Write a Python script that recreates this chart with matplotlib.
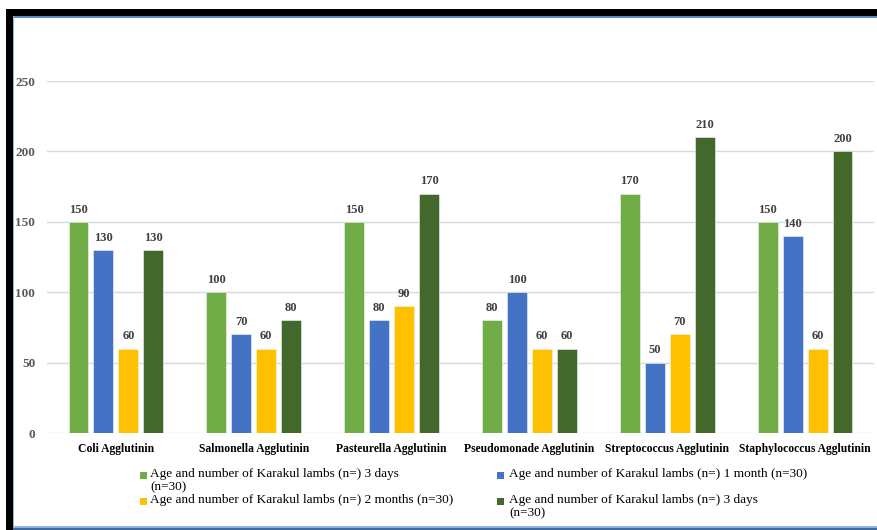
import matplotlib
matplotlib.use("Agg")
import matplotlib.pyplot as plt
from matplotlib.patches import Rectangle
import numpy as np

categories = ["Coli Agglutinin", "Salmonella Agglutinin", "Pasteurella Agglutinin",
              "Pseudomonade Agglutinin", "Streptococcus Agglutinin", "Staphylococcus Agglutinin"]
series_labels = ["Age and number of Karakul lambs (n=) 3 days\n(n=30)",
                 "Age and number of Karakul lambs (n=) 1 month (n=30)",
                 "Age and number of Karakul lambs (n=) 2 months (n=30)",
                 "Age and number of Karakul lambs (n=) 3 days\n(n=30)"]
days3_a = [150, 100, 150, 80, 170, 150]
month1 = [130, 70, 80, 100, 50, 140]
months2 = [60, 60, 90, 60, 70, 60]
days3_b = [130, 80, 170, 60, 210, 200]
yticks = [0, 50, 100, 150, 200, 250]

series = [days3_a, month1, months2, days3_b]
colors = ["#70AD47", "#4472C4", "#FFC000", "#43682B"]

W, H = 878, 530
fig = plt.figure(figsize=(W / 100, H / 100), dpi=100)
serif = ["Liberation Serif", "DejaVu Serif"]

ax = fig.add_axes([47 / W, 1 - 433 / H, (874 - 47) / W, (433 - 81) / H])
x = np.arange(len(categories))
bw = 0.145
step = 0.181
offsets = (np.arange(4) - 1.5) * step
for vals, col, off in zip(series, colors, offsets):
    bars = ax.bar(x + off, vals, width=bw, color=col, edgecolor="#f4f4f4",
                  linewidth=0.4, zorder=3)
    for rect, v in zip(bars, vals):
        ax.annotate(f"{v}", (rect.get_x() + rect.get_width() / 2, v),
                    xytext=(0, 4.5), textcoords="offset points", ha="center", va="bottom",
                    fontsize=9, fontweight="bold", color="#404040", family=serif)

ax.set_xlim(-0.5, len(categories) - 0.5)
ax.set_ylim(0, 250)
ax.set_yticks(yticks)
ax.set_yticklabels([str(t) for t in yticks])
ax.set_xticks(x)
ax.set_xticklabels(categories)
ax.grid(axis="y", color="#D9D9D9", linewidth=1, zorder=0)
for s in ax.spines.values():
    s.set_visible(False)
ax.tick_params(axis="both", length=0)
ax.tick_params(axis="y", pad=8.5, labelsize=9.5, labelcolor="#595959")
ax.tick_params(axis="x", pad=7, labelsize=8.4, labelcolor="#000000")
for lab in ax.get_yticklabels() + ax.get_xticklabels():
    lab.set_family(serif)
    lab.set_fontweight("bold")

# legend drawn as a 2x2 grid with markers aligned to the first text line
col_x = [140, 497]
row_y = [475, 501]
text_dx = [10, 12]
for i, (lab, col) in enumerate(zip(series_labels, colors)):
    cx = col_x[i % 2]
    cy = row_y[i // 2]
    fig.patches.append(Rectangle((cx / W, 1 - (cy + 3.5) / H), 7 / W, 7 / H,
                                 transform=fig.transFigure, facecolor=col, linewidth=0))
    fig.text((cx + text_dx[i % 2]) / W, 1 - (cy - 7.5) / H, lab, ha="left", va="top",
             fontsize=9.5, family=serif, color="#000000", linespacing=1.18)

# frame around the chart
frame = [
    ((6, 9), W - 6, 7, "#000000"),
    ((6, 16), W - 6, 1.5, "#5A8AC6"),
    ((6, 9), 7, H - 9, "#000000"),
    ((13, 16), 1.5, H - 16, "#8DB3E2"),
    ((13, 526), W - 13, 1.5, "#8DB3E2"),
    ((13, 528), W - 13, 2, "#3E6A9E"),
]
for (px, py), w, h, c in frame:
    fig.patches.append(Rectangle((px / W, 1 - (py + h) / H), w / W, h / H,
                                 transform=fig.transFigure, facecolor=c, linewidth=0))

fig.savefig("out.png", dpi=100)
